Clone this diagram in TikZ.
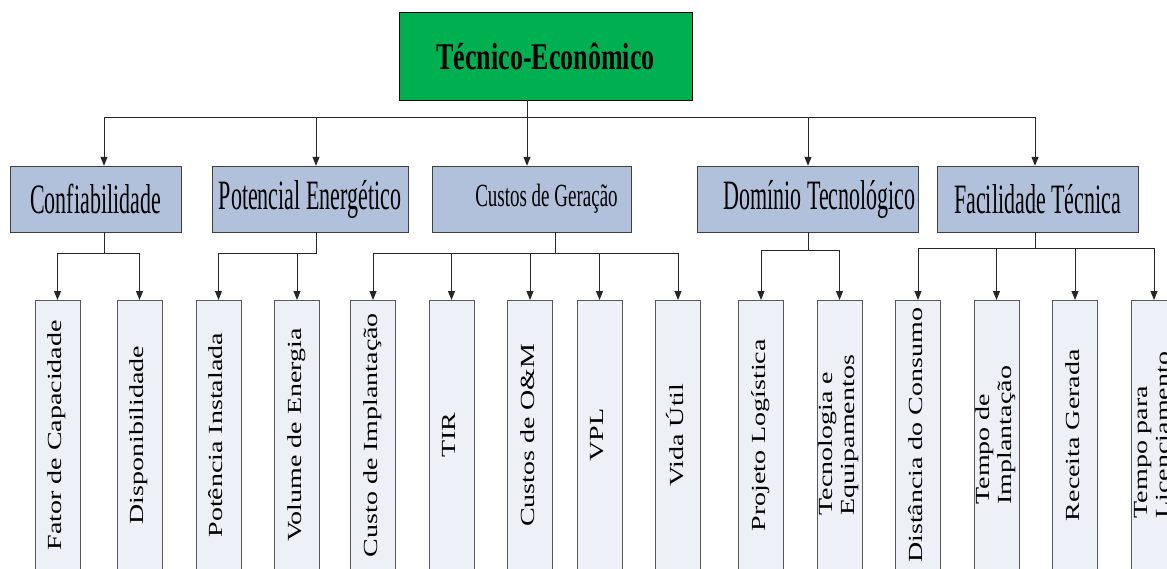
\documentclass[tikz,border=0pt]{standalone}
\usepackage{fontspec}
\setmainfont{Liberation Serif}
\usepackage{xcolor}
\usepackage{tikz}
\usetikzlibrary{arrows.meta}
\usetikzlibrary{calc}

\definecolor{vertTitre}{RGB}{0,176,80}
\definecolor{bleuCat}{RGB}{178,193,219}
\definecolor{grisFeuille}{RGB}{238,240,248}

\newcommand{\textecat}[1]{\scalebox{1}[1.9]{#1}}
\newcommand{\textefeuille}[1]{\rotatebox{90}{\scalebox{1.4}[1]{\begin{tabular}{@{}l@{}}#1\end{tabular}}}}

\begin{document}
\begin{tikzpicture}[x=1pt, y=-1pt,
    titre/.style={draw=black, fill=vertTitre, minimum width=293pt, minimum height=88pt, inner sep=0pt, font=\fontsize{26}{30}\selectfont\bfseries},
    categorie/.style={draw=black!75, fill=bleuCat, minimum height=66pt, inner sep=0pt, font=\fontsize{22}{26}\selectfont},
    feuille/.style={draw=black!65, fill=grisFeuille, minimum width=45pt, minimum height=270pt, inner sep=0pt, anchor=north, font=\fontsize{20}{22}\selectfont},
    trait/.style={line width=1pt, black!85},
    fleche/.style={trait, -{Triangle[length=9pt, width=7pt]}}]
        \useasboundingbox (0,0) rectangle (1167,568);
        \clip (0,0) rectangle (1167,568);

        % Boîte du titre
        \node[titre] (tecnico) at (545.5,56) {\scalebox{1}[1.45]{Técnico-Econômico}};

        % Les cinq critères
        \node[categorie, minimum width=171pt] (conf) at (95.5,199) {\textecat{Confiabilidade}};
        \node[categorie, minimum width=196pt] (potencial) at (310,199) {\textecat{Potencial Energético}};
        \node[categorie, minimum width=199pt, font=\fontsize{19}{22}\selectfont] (custos) at (531.5,199) {\hspace*{30pt}\scalebox{1}[1.7]{Custos de Geração}};
        \node[categorie, minimum width=221pt] (dominio) at (807.5,199) {\hspace*{24pt}\textecat{Domínio Tecnológico}};
        \node[categorie, minimum width=201pt] (facilidade) at (1037.5,199) {\textecat{Facilidade Técnica}};

        % Les sous-critères
        \node[feuille] (fator) at (57.5,300) {\textefeuille{Fator de Capacidade}};
        \node[feuille] (dispo) at (139.5,300) {\textefeuille{Disponibilidade}};
        \node[feuille] (potencia) at (218.5,300) {\textefeuille{Potência Instalada}};
        \node[feuille] (volume) at (297,300) {\textefeuille{Volume de Energia}};
        \node[feuille] (implant) at (373,300) {\textefeuille{Custo de Implantação}};
        \node[feuille] (tir) at (451.5,300) {\textefeuille{TIR}};
        \node[feuille] (om) at (530,300) {\textefeuille{Custos de O\&M}};
        \node[feuille] (vpl) at (599.5,300) {\textefeuille{VPL}};
        \node[feuille] (vida) at (678,300) {\textefeuille{Vida Útil}};
        \node[feuille] (projeto) at (761,300) {\textefeuille{Projeto Logística}};
        \node[feuille] (tecno) at (839.5,300) {\textefeuille{Tecnologia e\\Equipamentos}};
        \node[feuille] (distancia) at (918,300) {\textefeuille{Distância do Consumo}};
        \node[feuille] (tempoimpl) at (996.5,300) {\textefeuille{Tempo de\\Implantação}};
        \node[feuille] (receita) at (1075,300) {\textefeuille{Receita Gerada}};
        \node[feuille] (tempolic) at (1154,300) {\textefeuille{Tempo para\\Licenciamento}};

        % Premier niveau de liaisons
        \coordinate (a1) at (104,117);
        \coordinate (a2) at (316,117);
        \coordinate (a3) at (527,117);
        \coordinate (a4) at (808,117);
        \coordinate (a5) at (1035,117);
        \draw[trait] (a3 |- tecnico.south) -- (a3); % tronc
        \draw[trait] (a1) -- (a5); % barre horizontale
        \draw[fleche] (a1) -- (a1 |- conf.north);
        \draw[fleche] (a2) -- (a2 |- potencial.north);
        \draw[fleche] (a3) -- (a3 |- custos.north);
        \draw[fleche] (a4) -- (a4 |- dominio.north);
        \draw[fleche] (a5) -- (a5 |- facilidade.north);

        % Deuxième niveau de liaisons
        \coordinate (c1) at (104,253);
        \coordinate (c2) at (316,253);
        \coordinate (c3) at (555,253);
        \coordinate (c4) at (808,250);
        \coordinate (c5) at (1035,248);

        \draw[trait] (c1 |- conf.south) -- (c1);
        \draw[trait] (fator |- c1) -- (dispo |- c1);
        \draw[fleche] (fator |- c1) -- (fator);
        \draw[fleche] (dispo |- c1) -- (dispo);

        \draw[trait] (c2 |- potencial.south) -- (c2) -- (potencia |- c2);
        \draw[fleche] (potencia |- c2) -- (potencia);
        \draw[fleche] (volume |- c2) -- (volume);

        \draw[trait] (c3 |- custos.south) -- (c3);
        \draw[trait] (implant |- c3) -- (vida |- c3);
        \draw[fleche] (implant |- c3) -- (implant);
        \draw[fleche] (tir |- c3) -- (tir);
        \draw[fleche] (om |- c3) -- (om);
        \draw[fleche] (vpl |- c3) -- (vpl);
        \draw[fleche] (vida |- c3) -- (vida);

        \draw[trait] (c4 |- dominio.south) -- (c4);
        \draw[trait] (projeto |- c4) -- (tecno |- c4);
        \draw[fleche] (projeto |- c4) -- (projeto);
        \draw[fleche] (tecno |- c4) -- (tecno);

        \draw[trait] (c5 |- facilidade.south) -- (c5);
        \draw[trait] (distancia |- c5) -- (tempolic |- c5);
        \draw[fleche] (distancia |- c5) -- (distancia);
        \draw[fleche] (tempoimpl |- c5) -- (tempoimpl);
        \draw[fleche] (receita |- c5) -- (receita);
        \draw[fleche] (tempolic |- c5) -- (tempolic);
    \end{tikzpicture}
\end{document}
